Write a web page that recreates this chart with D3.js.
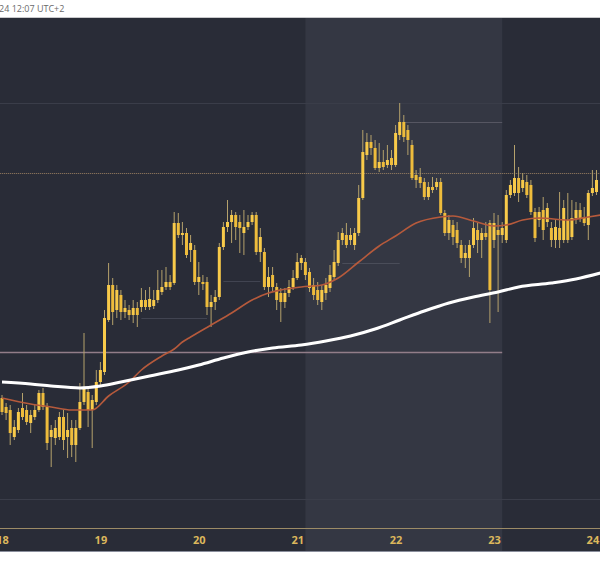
<!DOCTYPE html>
<html><head><meta charset="utf-8">
<script src="https://cdn.jsdelivr.net/npm/d3@7"></script>
<style>html,body{margin:0;padding:0;background:#fff;}svg{display:block}</style>
</head><body><svg id="c" width="600" height="576"></svg>
<script>
// ---------- DATA (hourly candles from 18th 00:00, UTC+2 display) ----------
const headerText = "24 12:07 UTC+2";
const startTime = Date.UTC(2024, 2, 18, 0);
const open = [2130,2121,2118,2091,2098,2120,2118,2105,2111,2118,
2135,2121,2091,2090,2091,2111,2091,2100,2083,2100,
2126,2136,2118,2126,2146,2156,2208,2243,2218,2233,
2216,2218,2213,2220,2221,2228,2221,2222,2228,2236,
2241,2246,2245,2305,2293,2295,2278,2278,2246,2246,
2246,2221,2226,2231,2281,2301,2306,2313,2306,2295,
2301,2306,2313,2276,2276,2241,2253,2241,2235,2226,
2235,2241,2250,2265,2266,2256,2243,2238,2226,2235,
2240,2251,2265,2288,2293,2288,2283,2295,2330,2373,
2386,2380,2360,2366,2363,2370,2363,2393,2406,2398,
2383,2353,2351,2346,2331,2341,2341,2346,2315,2295,
2303,2298,2283,2270,2270,2283,2298,2288,2295,2305,
2288,2298,2293,2288,2333,2335,2350,2340,2346,2343,
2316,2308,2318,2306,2300,2288,2300,2288,2308,2291,
2310,2318,2311,2303,2335,2336];
const close = [2116,2115,2095,2101,2116,2111,2106,2113,2118,2135,
2121,2085,2098,2100,2111,2088,2098,2083,2100,2126,
2140,2118,2128,2146,2158,2210,2243,2216,2238,2216,
2220,2213,2220,2213,2228,2221,2229,2228,2238,2241,
2246,2241,2305,2293,2295,2273,2285,2246,2251,2244,
2221,2226,2231,2281,2301,2306,2313,2301,2300,2301,
2306,2313,2276,2291,2241,2251,2241,2228,2226,2235,
2241,2250,2266,2270,2253,2240,2233,2228,2238,2243,
2253,2266,2288,2295,2283,2293,2295,2330,2376,2386,
2380,2360,2366,2361,2368,2363,2395,2406,2391,2388,
2350,2348,2345,2331,2341,2338,2346,2315,2295,2308,
2291,2285,2270,2275,2283,2300,2288,2295,2291,2238,
2305,2293,2300,2333,2343,2350,2335,2348,2333,2316,
2290,2316,2298,2320,2288,2301,2288,2320,2288,2310,
2318,2310,2305,2335,2340,2348];
const high = [2133,2125,2123,2108,2120,2135,2123,2118,2123,2138,
2140,2125,2103,2108,2116,2118,2115,2108,2108,2145,
2195,2140,2133,2158,2166,2218,2265,2250,2243,2238,
2228,2223,2228,2226,2240,2238,2241,2238,2258,2258,
2261,2253,2316,2315,2306,2300,2293,2283,2266,2253,
2251,2233,2238,2285,2306,2328,2318,2316,2313,2318,
2313,2316,2316,2300,2280,2261,2261,2245,2240,2240,
2248,2258,2275,2273,2270,2260,2250,2246,2243,2250,
2263,2278,2296,2300,2305,2300,2300,2343,2398,2395,
2393,2388,2385,2378,2383,2378,2403,2425,2413,2403,
2388,2358,2360,2350,2346,2351,2350,2350,2318,2313,
2308,2306,2288,2283,2288,2310,2305,2300,2306,2308,
2315,2313,2306,2338,2348,2383,2361,2355,2353,2348,
2320,2321,2331,2325,2306,2308,2336,2328,2335,2328,
2326,2325,2321,2338,2358,2358];
const low = [2113,2108,2083,2088,2095,2108,2103,2095,2108,2116,
2118,2078,2061,2083,2088,2078,2070,2071,2066,2098,
2123,2101,2080,2123,2143,2153,2206,2203,2210,2208,
2210,2208,2205,2201,2216,2218,2218,2219,2225,2233,
2238,2238,2243,2290,2283,2270,2266,2243,2233,2238,
2213,2201,2218,2228,2278,2296,2285,2288,2275,2273,
2298,2303,2273,2266,2238,2231,2236,2218,2206,2220,
2231,2238,2248,2258,2248,2236,2228,2223,2218,2228,
2236,2248,2262,2283,2280,2283,2278,2292,2328,2368,
2373,2358,2356,2358,2360,2358,2361,2388,2386,2373,
2348,2340,2340,2328,2328,2335,2338,2313,2292,2288,
2283,2280,2265,2260,2251,2280,2275,2270,2288,2205,
2280,2216,2285,2285,2330,2332,2326,2336,2330,2313,
2286,2301,2288,2301,2281,2280,2280,2285,2285,2288,
2304,2306,2302,2288,2332,2333];

// slow moving average (white), read at these hour offsets
const maSlowHours  = [0,7,12,19,24,29,36,43,48,54,60,66,73,79,85,91,97,103,109,115,121,126,134,140,146];
const maSlowValues = [2146,2144,2142,2140,2142,2146,2152,2158,2163,2170,2176,2180,2183,2187,2192,2199,2208,2217,2225,2231,2236,2241,2245,2249,2255];
// fast moving average (orange)
const maFastHours  = [0,7,12,17,22,26,31,34,39,42,44,46,51,56,61,65,68,73,78,82,87,92,96,101,107,110,115,120,123,127,131,138,143,146];
const maFastValues = [2130,2124,2121,2118,2118,2132,2146,2158,2172,2179,2186,2191,2203,2215,2228,2235,2238,2241,2243,2250,2266,2282,2292,2305,2311,2312,2307,2302,2303,2308,2310,2308,2311,2313];

// horizontal levels: price, start hour, end hour
const levelPrices = [2355, 2176, 2406, 2265, 2247, 2210];
const levelFrom   = [-2, -2, 98, 83, 54, 34];
const levelTo     = [150, 122, 122, 97, 63, 50];
const gridPrices  = [2425, 2029];
// shaded session: hour range
const bandFrom = 74, bandTo = 122;

// ---------- CHART ----------
(function(){
const W = 600, H = 576;
const plotTop = 18, plotBottom = 552, axisY = 528;
const svg = d3.select("#c");
const t = h => new Date(startTime + h * 3600e3);
const x = d3.scaleUtc().domain([t(0), t(144)]).range([2, 592.4]);
const y = d3.scaleLinear().domain([2010, 2510]).range([518, 18]);

svg.append("rect").attr("x",0).attr("y",0).attr("width",W).attr("height",H).attr("fill","#ffffff");
svg.append("text").attr("x",-1).attr("y",12).attr("font-family","'Open Sans',sans-serif")
   .attr("font-size",9).attr("fill","#6a6a6a").text(headerText);
svg.append("line").attr("x1",0).attr("x2",W).attr("y1",17.5).attr("y2",17.5).attr("stroke","#c9c9cc");

const plot = svg.append("g");
const clip = svg.append("clipPath").attr("id","pc");
clip.append("rect").attr("x",0).attr("y",plotTop).attr("width",W).attr("height",axisY-plotTop);

plot.append("rect").attr("x",0).attr("y",plotTop).attr("width",W).attr("height",plotBottom-plotTop).attr("fill","#292c37");
plot.append("rect").attr("x",x(t(bandFrom))).attr("y",plotTop)
    .attr("width",x(t(bandTo))-x(t(bandFrom))).attr("height",plotBottom-plotTop).attr("fill","#343743");

const g = plot.append("g").attr("clip-path","url(#pc)");

g.selectAll(".grid").data(gridPrices).join("line").attr("class","grid")
  .attr("x1",0).attr("x2",W).attr("y1",d=>Math.round(y(d))+0.5).attr("y2",d=>Math.round(y(d))+0.5)
  .attr("stroke","#3a3d49").attr("stroke-width",1);

const levelStyles = [
  {stroke:"#a98a66", width:1, dash:"1,1", op:0.9},
  {stroke:"#927d89", width:1.6, dash:null, op:1},
  {stroke:"#5a5a66", width:1, dash:null, op:0.9},
  {stroke:"#4d505c", width:1, dash:null, op:0.9},
  {stroke:"#444754", width:1, dash:null, op:0.9},
  {stroke:"#444754", width:1, dash:null, op:0.9}
];
levelPrices.forEach((p,i)=>{
  const s = levelStyles[i];
  g.append("line").attr("x1",x(t(levelFrom[i]))).attr("x2",x(t(levelTo[i])))
   .attr("y1",Math.round(y(p))+0.5).attr("y2",Math.round(y(p))+0.5)
   .attr("stroke",s.stroke).attr("stroke-width",s.width).attr("stroke-opacity",s.op)
   .attr("stroke-dasharray",s.dash);
});

const candles = open.map((o,i)=>({h:i,o,c:close[i],hi:high[i],lo:low[i]}));
g.selectAll(".wick").data(candles).join("line").attr("class","wick")
  .attr("x1",d=>x(t(d.h))).attr("x2",d=>x(t(d.h)))
  .attr("y1",d=>y(d.hi)).attr("y2",d=>y(d.lo))
  .attr("stroke","#b5a26c").attr("stroke-width",1);
g.selectAll(".body").data(candles).join("rect").attr("class","body")
  .attr("x",d=>x(t(d.h))-1.5).attr("width",3)
  .attr("y",d=>y(Math.max(d.o,d.c)))
  .attr("height",d=>Math.max(1.5,Math.abs(y(d.o)-y(d.c))))
  .attr("fill",d=>d.c>=d.o?"#f8ca4a":"#eebc3c");

const line = d3.line().x(d=>x(t(d[0]))).y(d=>y(d[1])).curve(d3.curveMonotoneX);
g.append("path").datum(maFastHours.map((h,i)=>[h,maFastValues[i]]))
  .attr("d",line).attr("fill","none").attr("stroke","#b65a3c").attr("stroke-width",1.6);
g.append("path").datum(maSlowHours.map((h,i)=>[h,maSlowValues[i]]))
  .attr("d",line).attr("fill","none").attr("stroke","#ffffff").attr("stroke-width",3);

// axis
svg.append("line").attr("x1",0).attr("x2",W).attr("y1",axisY+0.5).attr("y2",axisY+0.5)
  .attr("stroke","#9c8b66").attr("stroke-width",1);
svg.append("line").attr("x1",0).attr("x2",W).attr("y1",plotBottom-0.5).attr("y2",plotBottom-0.5)
  .attr("stroke","#8a8e9c").attr("stroke-width",1);
const ax = svg.append("g").attr("transform",`translate(0,${axisY})`)
  .call(d3.axisBottom(x).ticks(d3.utcDay.every(1)).tickFormat(d3.utcFormat("%-d")).tickSize(0).tickPadding(8));
ax.select(".domain").remove();
ax.selectAll("text").attr("fill","#dcb75c").attr("font-size",11).attr("font-weight",700)
  .attr("font-family","'Open Sans',sans-serif");
})();
</script></body></html>
